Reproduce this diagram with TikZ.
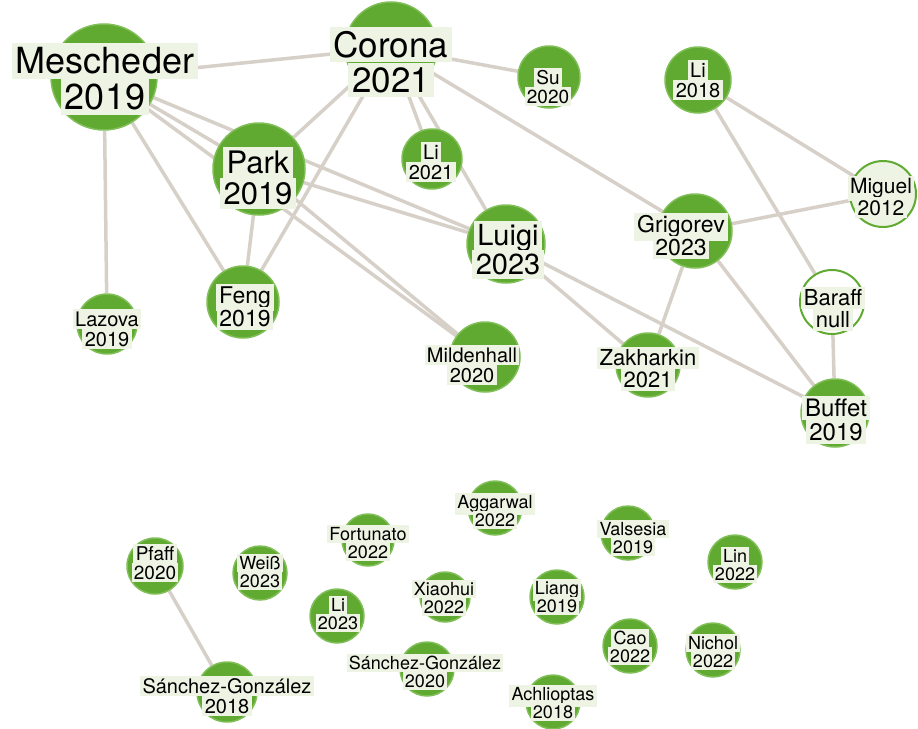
\documentclass[tikz,border=0pt]{standalone}
\usepackage{fontspec}
\setmainfont{TeX Gyre Heros}
\usetikzlibrary{backgrounds}
\definecolor{gfill}{RGB}{96,170,50}
\definecolor{grim}{RGB}{128,190,88}
\definecolor{lbg}{RGB}{238,244,228}
\definecolor{edgec}{RGB}{214,208,200}
\lineskiplimit=-100pt\relax
\lineskip=0pt\relax
\newcommand\lb[1]{{\setlength{\fboxsep}{0.12em}\colorbox{lbg}{\vphantom{A0}#1}}}
\tikzset{
  circ/.style={circle,fill=gfill,draw=grim,line width=1.5pt,inner sep=0pt,minimum size=#1},
  ring/.style={circle,fill=white,draw=gfill,line width=2pt,inner sep=0pt,minimum size=#1},
  lbl/.style={inner sep=0pt,align=center,font=\fontsize{#1}{#1}\selectfont},
  edge/.style={draw=edgec,line width=3.5pt}
}
\begin{document}
\begin{tikzpicture}[x=1pt,y=-1pt]
\useasboundingbox (0,0) rectangle (918,728);
% circles
\node[circ=106] (mes) at (104,77) {};
\node[circ=92] (cor) at (391,48) {};
\node[circ=62] (su) at (549,77) {};
\node[circ=66] (li18) at (698,80) {};
\node[circ=92] (park) at (259,169) {};
\node[circ=60] (li21) at (432,159) {};
\node[circ=78] (luigi) at (506,244) {};
\node[circ=74] (grig) at (695,231) {};
\node[ring=66,fill=lbg] (mig) at (883,194) {};
\node[ring=64] (bar) at (832,302) {};
\node[circ=68] (buf) at (835,413) {};
\node[circ=72] (feng) at (243,302) {};
\node[circ=60] (laz) at (107,324) {};
\node[circ=70] (mild) at (485,357) {};
\node[circ=64] (zak) at (648,365) {};
\node[circ=54] (agg) at (495,508) {};
\node[circ=52] (fort) at (368,540) {};
\node[circ=54] (vals) at (628,533) {};
\node[circ=56] (pfaff) at (155,566) {};
\node[circ=54] (weiss) at (260,573) {};
\node[circ=54] (lin) at (735,562) {};
\node[circ=54] (li23) at (337,616) {};
\node[circ=50] (xiao) at (445,597) {};
\node[circ=54] (liang) at (557,597) {};
\node[circ=54] (cao) at (630,646) {};
\node[circ=54] (nich) at (713,650) {};
\node[circ=54] (sg20) at (427,669) {};
\node[circ=54] (ach) at (553,702) {};
\node[circ=60] (sg18) at (227,692) {};
% edges
\begin{scope}[on background layer]
\draw[edge] (mes) -- (cor);
\draw[edge] (mes) -- (laz);
\draw[edge] (mes) -- (park);
\draw[edge] (mes) -- (feng);
\draw[edge] (mes) -- (luigi);
\draw[edge] (mes) -- (mild);
\draw[edge] (cor) -- (park);
\draw[edge] (cor) -- (feng);
\draw[edge] (cor) -- (su);
\draw[edge] (cor) -- (li21);
\draw[edge] (cor) -- (luigi);
\draw[edge] (cor) -- (grig);
\draw[edge] (park) -- (feng);
\draw[edge] (park) -- (luigi);
\draw[edge] (park) -- (mild);
\draw[edge] (luigi) -- (zak);
\draw[edge] (luigi) -- (buf);
\draw[edge] (grig) -- (zak);
\draw[edge] (grig) -- (buf);
\draw[edge] (grig) -- (mig);
\draw[edge] (li18) -- (mig);
\draw[edge] (li18) -- (bar);
\draw[edge] (bar) -- (buf);
\draw[edge] (pfaff) -- (sg18);
\end{scope}
% labels
\node[lbl=36] (tmes) at (105,79) {\lb{Mescheder}\\\lb{2019}};
\node[lbl=35] (tcor) at (391,62) {\lb{Corona}\\\lb{2021}};
\node[lbl=19] (tsu) at (548,87) {\lb{Su}\\\lb{2020}};
\node[lbl=20] (tli18) at (698,80) {\lb{Li}\\\lb{2018}};
\node[lbl=31] (tpark) at (258,178) {\lb{Park}\\\lb{2019}};
\node[lbl=20] (tli21) at (431,162) {\lb{Li}\\\lb{2021}};
\node[lbl=29] (tluigi) at (508,250) {\lb{Luigi}\\\lb{2023}};
\node[lbl=23] (tgrig) at (681,236) {\lb{Grigorev}\\\lb{2023}};
\node[lbl=21] (tmig) at (881,197) {\lb{Miguel}\\\lb{2012}};
\node[lbl=22] (tbar) at (833,309) {\lb{Baraff}\\\lb{null}};
\node[lbl=24] (tbuf) at (836,420) {\lb{Buffet}\\\lb{2019}};
\node[lbl=23] (tfeng) at (245,307) {\lb{Feng}\\\lb{2019}};
\node[lbl=20] (tlaz) at (107,329) {\lb{Lazova}\\\lb{2019}};
\node[lbl=20] (tmild) at (472,365) {\lb{Mildenhall}\\\lb{2020}};
\node[lbl=22] (tzak) at (648,369) {\lb{Zakharkin}\\\lb{2021}};
\node[lbl=18] (tagg) at (495,511) {\lb{Aggarwal}\\\lb{2022}};
\node[lbl=18] (tfort) at (368,543) {\lb{Fortunato}\\\lb{2022}};
\node[lbl=18] (tvals) at (633,538) {\lb{Valsesia}\\\lb{2019}};
\node[lbl=19] (tpfaff) at (155,563) {\lb{Pfaff}\\\lb{2020}};
\node[lbl=18] (tweiss) at (260,572) {\lb{Weiß}\\\lb{2023}};
\node[lbl=18] (tlin) at (735,565) {\lb{Lin}\\\lb{2022}};
\node[lbl=18] (tli23) at (338,614) {\lb{Li}\\\lb{2023}};
\node[lbl=18] (txiao) at (444,598) {\lb{Xiaohui}\\\lb{2022}};
\node[lbl=18] (tliang) at (557,597) {\lb{Liang}\\\lb{2019}};
\node[lbl=18] (tcao) at (630,647) {\lb{Cao}\\\lb{2022}};
\node[lbl=18] (tnich) at (713,652) {\lb{Nichol}\\\lb{2022}};
\node[lbl=18] (tsg20) at (425,672) {\lb{Sánchez-González}\\\lb{2020}};
\node[lbl=18] (tach) at (553,703) {\lb{Achlioptas}\\\lb{2018}};
\node[lbl=20] (tsg18) at (227,696) {\lb{Sánchez-González}\\\lb{2018}};
\end{tikzpicture}
\end{document}
